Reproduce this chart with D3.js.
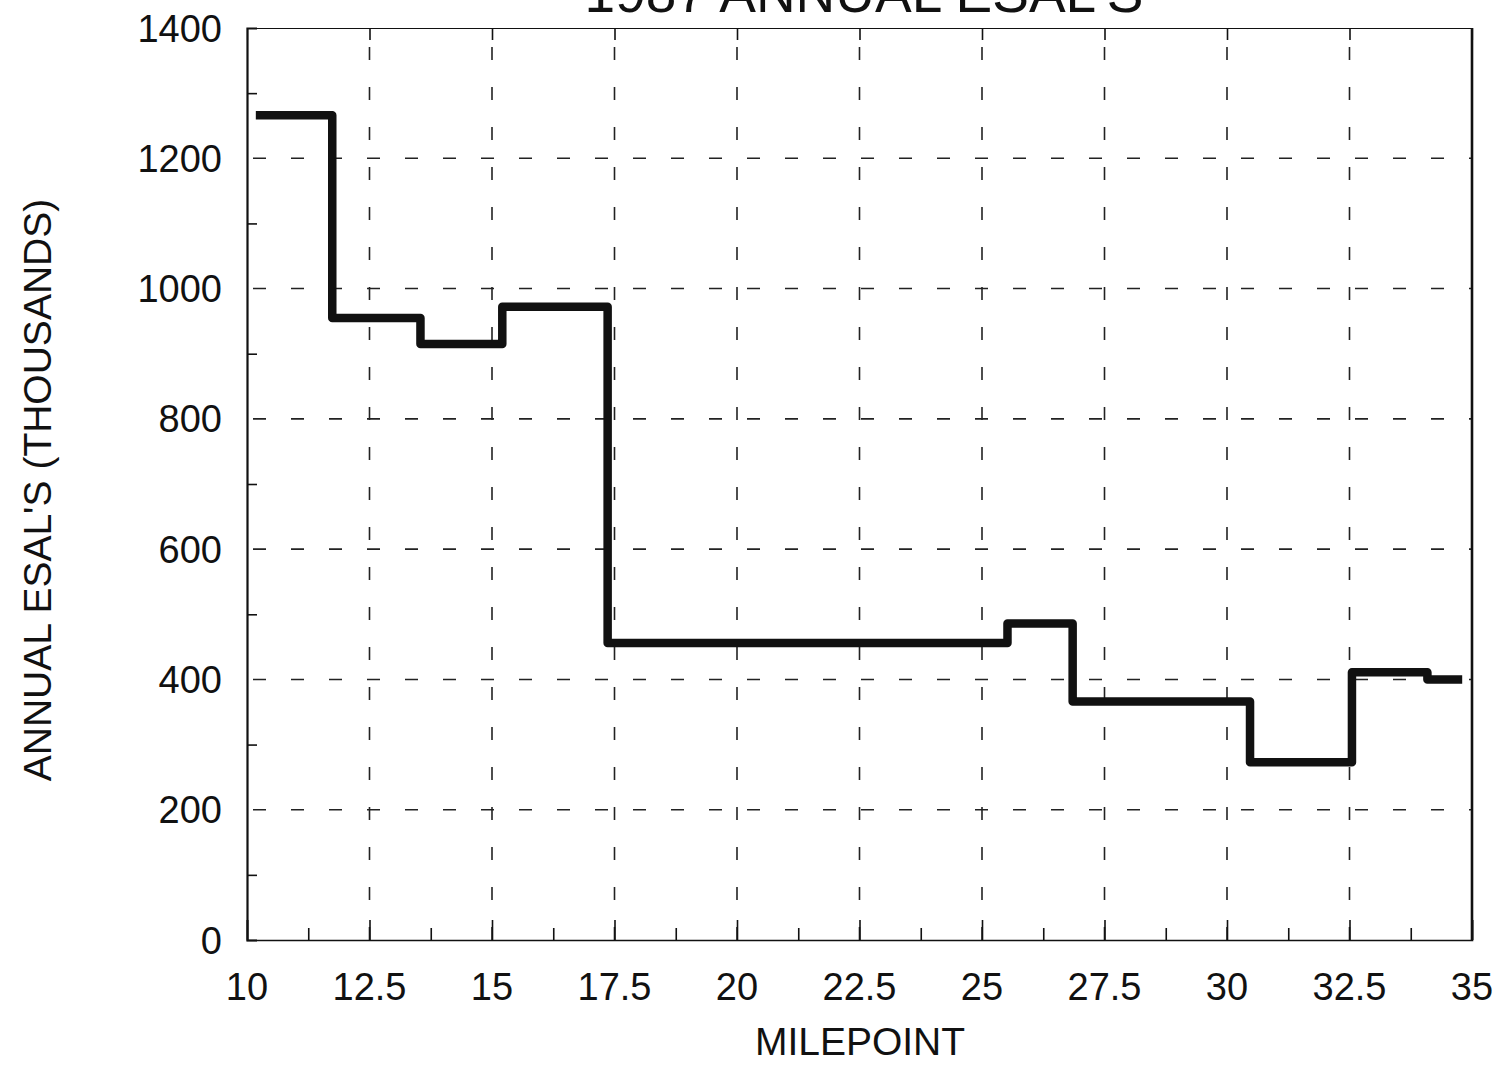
<!DOCTYPE html>
<html>
<head>
<meta charset="utf-8">
<script src="https://d3js.org/d3.v7.min.js"></script>
<style>
	body { margin: 0; background: #fff; }
	text { font-family: "Liberation Sans", Arial, sans-serif; fill: #111; }
</style>
</head>
<body>
<div id="chart"></div>
<script>
//---------------- data ----------------------
var segStart = [10.18, 11.74, 13.54, 15.21, 17.36, 25.52, 26.85, 30.47, 32.55, 34.09];
var segEnd = 34.8;
var esals = [1266, 955, 915, 972, 456, 486, 366, 273, 411, 400];

var xTicks = [10, 12.5, 15, 17.5, 20, 22.5, 25, 27.5, 30, 32.5, 35];
var xMinor = [11.25, 13.75, 16.25, 18.75, 21.25, 23.75, 26.25, 28.75, 31.25, 33.75];
var yTicks = [0, 200, 400, 600, 800, 1000, 1200, 1400];
var yMinor = [100, 300, 500, 700, 900, 1100, 1300];

var title = "1987 ANNUAL ESAL'S";
var xTitle = "MILEPOINT";
var yTitle = "ANNUAL ESAL'S (THOUSANDS)";

//---------------- sizes ----------------------
var w = 1504;
var h = 1068;
var plotLeft = 247;
var plotRight = 1472;
var plotTop = 28;
var plotBottom = 940;

var svg = d3.select("#chart").append("svg")
	.attr("width", w)
	.attr("height", h);

//---------------- scales ----------------------
var xScale = d3.scaleLinear()
	.domain([10, 35])
	.range([plotLeft, plotRight]);

var yScale = d3.scaleLinear()
	.domain([0, 1400])
	.range([plotBottom, plotTop]);

//---------------- grid ----------------------
// vertical dashed lines, drawn from the bottom up so the dashes start at the axis
svg.append("g")
	.selectAll("path")
	.data(xTicks.slice(1, -1))
	.enter()
	.append("path")
	.attr("d", function(d) {
		return "M" + xScale(d) + "," + yScale(0) + "V" + yScale(1400);
	})
	.attr("stroke", "#222")
	.attr("stroke-width", 1.6)
	.attr("stroke-dasharray", "13,27");

svg.append("g")
	.selectAll("path")
	.data(yTicks.slice(1, -1))
	.enter()
	.append("path")
	.attr("d", function(d) {
		return "M" + xScale(10) + "," + yScale(d) + "H" + xScale(35);
	})
	.attr("stroke", "#222")
	.attr("stroke-width", 1.6)
	.attr("stroke-dasharray", "0,6,13,19");

//---------------- axes ----------------------
var xAxisBottom = d3.axisBottom(xScale).tickValues(xTicks).tickSize(-20).tickFormat("");
var xAxisMinor = d3.axisBottom(xScale).tickValues(xMinor).tickSize(-12).tickFormat("");
var xAxisTop = d3.axisTop(xScale).tickValues(xTicks.slice(1, -1)).tickSize(-12).tickFormat("");
var yAxisMinor = d3.axisLeft(yScale).tickValues(yMinor).tickSize(-10).tickFormat("");

function styleAxis(g, width) {
	g.select(".domain").attr("stroke", "#111").attr("stroke-width", width);
	g.selectAll(".tick line").attr("stroke", "#111").attr("stroke-width", 1.6);
}

svg.append("g")
	.attr("transform", "translate(0," + plotBottom + ")")
	.call(xAxisBottom)
	.call(styleAxis, 1.6);

svg.append("g")
	.attr("transform", "translate(0," + plotBottom + ")")
	.call(xAxisMinor)
	.call(function(g) { g.select(".domain").remove(); })
	.call(styleAxis, 1.6);

svg.append("g")
	.attr("transform", "translate(0," + plotTop + ")")
	.call(xAxisTop)
	.call(styleAxis, 1.2);

svg.append("g")
	.attr("transform", "translate(" + plotLeft + ",0)")
	.call(yAxisMinor)
	.call(styleAxis, 2.2);

// right border
svg.append("line")
	.attr("x1", plotRight).attr("x2", plotRight)
	.attr("y1", yScale(1400)).attr("y2", yScale(0))
	.attr("stroke", "#111")
	.attr("stroke-width", 2.6);

//---------------- tick labels ----------------
svg.append("g")
	.selectAll("text")
	.data(xTicks)
	.enter()
	.append("text")
	.attr("x", function(d) { return xScale(d); })
	.attr("y", 1000)
	.attr("text-anchor", "middle")
	.style("font-size", "38px")
	.text(function(d) { return d; });

svg.append("g")
	.selectAll("text")
	.data(yTicks)
	.enter()
	.append("text")
	.attr("x", 222)
	.attr("y", function(d) { return yScale(d) + 13.6; })
	.attr("text-anchor", "end")
	.style("font-size", "38px")
	.text(function(d) { return d; });

//---------------- titles ----------------------
svg.append("text")
	.attr("x", 864)
	.attr("y", 12)
	.attr("text-anchor", "middle")
	.style("font-size", "55px")
	.text(title);

svg.append("text")
	.attr("x", 860)
	.attr("y", 1055)
	.attr("text-anchor", "middle")
	.style("font-size", "39px")
	.text(xTitle);

svg.append("text")
	.attr("transform", "translate(51,490) rotate(-90)")
	.attr("text-anchor", "middle")
	.style("font-size", "39px")
	.text(yTitle);

//---------------- step line ----------------------
var points = segStart.map(function(d, i) { return [d, esals[i]]; });
points.push([segEnd, esals[esals.length - 1]]);

var line = d3.line()
	.x(function(d) { return xScale(d[0]); })
	.y(function(d) { return yScale(d[1]); })
	.curve(d3.curveStepAfter);

svg.append("path")
	.datum(points)
	.attr("d", line)
	.attr("fill", "none")
	.attr("stroke", "#111")
	.attr("stroke-width", 8.5)
	.attr("stroke-linejoin", "round");
</script>
</body>
</html>
